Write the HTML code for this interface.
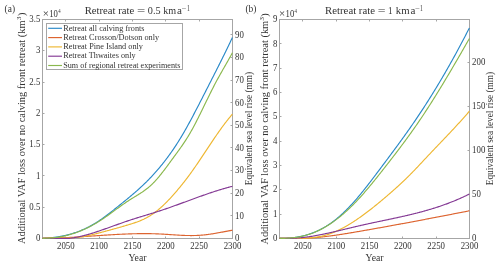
<!DOCTYPE html><html><head><meta charset="utf-8"><style>html,body{margin:0;padding:0;background:#fff;overflow:hidden}svg{display:block;will-change:transform}text{font-family:"Liberation Serif",serif;fill:#333333}</style></head><body>
<svg width="500" height="266" viewBox="0 0 500 266">
<rect width="500" height="266" fill="#fff"/>
<rect x="42.5" y="19.5" width="190.00" height="219.00" fill="none" stroke="#a6a6a6" stroke-width="1"/>
<line x1="65.5" y1="238.5" x2="65.5" y2="236.5" stroke="#a6a6a6" stroke-width="1"/>
<line x1="65.5" y1="19.5" x2="65.5" y2="21.5" stroke="#a6a6a6" stroke-width="1"/>
<text x="65.83" y="249.4" font-size="9.8" text-anchor="middle" textLength="17.64" lengthAdjust="spacingAndGlyphs">2050</text>
<line x1="99.5" y1="238.5" x2="99.5" y2="236.5" stroke="#a6a6a6" stroke-width="1"/>
<line x1="99.5" y1="19.5" x2="99.5" y2="21.5" stroke="#a6a6a6" stroke-width="1"/>
<text x="99.17" y="249.4" font-size="9.8" text-anchor="middle" textLength="17.64" lengthAdjust="spacingAndGlyphs">2100</text>
<line x1="132.5" y1="238.5" x2="132.5" y2="236.5" stroke="#a6a6a6" stroke-width="1"/>
<line x1="132.5" y1="19.5" x2="132.5" y2="21.5" stroke="#a6a6a6" stroke-width="1"/>
<text x="132.50" y="249.4" font-size="9.8" text-anchor="middle" textLength="17.64" lengthAdjust="spacingAndGlyphs">2150</text>
<line x1="165.5" y1="238.5" x2="165.5" y2="236.5" stroke="#a6a6a6" stroke-width="1"/>
<line x1="165.5" y1="19.5" x2="165.5" y2="21.5" stroke="#a6a6a6" stroke-width="1"/>
<text x="165.83" y="249.4" font-size="9.8" text-anchor="middle" textLength="17.64" lengthAdjust="spacingAndGlyphs">2200</text>
<line x1="199.5" y1="238.5" x2="199.5" y2="236.5" stroke="#a6a6a6" stroke-width="1"/>
<line x1="199.5" y1="19.5" x2="199.5" y2="21.5" stroke="#a6a6a6" stroke-width="1"/>
<text x="199.17" y="249.4" font-size="9.8" text-anchor="middle" textLength="17.64" lengthAdjust="spacingAndGlyphs">2250</text>
<text x="232.50" y="249.4" font-size="9.8" text-anchor="middle" textLength="17.64" lengthAdjust="spacingAndGlyphs">2300</text>
<text x="40.30" y="241.10" font-size="9.8" text-anchor="end" textLength="4.41" lengthAdjust="spacingAndGlyphs">0</text>
<line x1="42.5" y1="207.5" x2="44.5" y2="207.5" stroke="#a6a6a6" stroke-width="1"/>
<text x="40.30" y="209.83" font-size="9.8" text-anchor="end" textLength="11.03" lengthAdjust="spacingAndGlyphs">0.5</text>
<line x1="42.5" y1="175.5" x2="44.5" y2="175.5" stroke="#a6a6a6" stroke-width="1"/>
<text x="40.30" y="178.56" font-size="9.8" text-anchor="end" textLength="4.41" lengthAdjust="spacingAndGlyphs">1</text>
<line x1="42.5" y1="144.5" x2="44.5" y2="144.5" stroke="#a6a6a6" stroke-width="1"/>
<text x="40.30" y="147.29" font-size="9.8" text-anchor="end" textLength="11.03" lengthAdjust="spacingAndGlyphs">1.5</text>
<line x1="42.5" y1="113.5" x2="44.5" y2="113.5" stroke="#a6a6a6" stroke-width="1"/>
<text x="40.30" y="116.01" font-size="9.8" text-anchor="end" textLength="4.41" lengthAdjust="spacingAndGlyphs">2</text>
<line x1="42.5" y1="82.5" x2="44.5" y2="82.5" stroke="#a6a6a6" stroke-width="1"/>
<text x="40.30" y="84.74" font-size="9.8" text-anchor="end" textLength="11.03" lengthAdjust="spacingAndGlyphs">2.5</text>
<line x1="42.5" y1="50.5" x2="44.5" y2="50.5" stroke="#a6a6a6" stroke-width="1"/>
<text x="40.30" y="53.47" font-size="9.8" text-anchor="end" textLength="4.41" lengthAdjust="spacingAndGlyphs">3</text>
<text x="40.30" y="22.20" font-size="9.8" text-anchor="end" textLength="11.03" lengthAdjust="spacingAndGlyphs">3.5</text>
<text x="235.10" y="241.30" font-size="9.8" textLength="4.41" lengthAdjust="spacingAndGlyphs">0</text>
<line x1="232.5" y1="215.5" x2="230.5" y2="215.5" stroke="#a6a6a6" stroke-width="1"/>
<text x="235.10" y="218.68" font-size="9.8" textLength="8.82" lengthAdjust="spacingAndGlyphs">10</text>
<line x1="232.5" y1="193.5" x2="230.5" y2="193.5" stroke="#a6a6a6" stroke-width="1"/>
<text x="235.10" y="196.06" font-size="9.8" textLength="8.82" lengthAdjust="spacingAndGlyphs">20</text>
<line x1="232.5" y1="170.5" x2="230.5" y2="170.5" stroke="#a6a6a6" stroke-width="1"/>
<text x="235.10" y="173.44" font-size="9.8" textLength="8.82" lengthAdjust="spacingAndGlyphs">30</text>
<line x1="232.5" y1="147.5" x2="230.5" y2="147.5" stroke="#a6a6a6" stroke-width="1"/>
<text x="235.10" y="150.82" font-size="9.8" textLength="8.82" lengthAdjust="spacingAndGlyphs">40</text>
<line x1="232.5" y1="125.5" x2="230.5" y2="125.5" stroke="#a6a6a6" stroke-width="1"/>
<text x="235.10" y="128.20" font-size="9.8" textLength="8.82" lengthAdjust="spacingAndGlyphs">50</text>
<line x1="232.5" y1="102.5" x2="230.5" y2="102.5" stroke="#a6a6a6" stroke-width="1"/>
<text x="235.10" y="105.58" font-size="9.8" textLength="8.82" lengthAdjust="spacingAndGlyphs">60</text>
<line x1="232.5" y1="80.5" x2="230.5" y2="80.5" stroke="#a6a6a6" stroke-width="1"/>
<text x="235.10" y="82.96" font-size="9.8" textLength="8.82" lengthAdjust="spacingAndGlyphs">70</text>
<line x1="232.5" y1="57.5" x2="230.5" y2="57.5" stroke="#a6a6a6" stroke-width="1"/>
<text x="235.10" y="60.34" font-size="9.8" textLength="8.82" lengthAdjust="spacingAndGlyphs">80</text>
<line x1="232.5" y1="34.5" x2="230.5" y2="34.5" stroke="#a6a6a6" stroke-width="1"/>
<text x="235.10" y="37.72" font-size="9.8" textLength="8.82" lengthAdjust="spacingAndGlyphs">90</text>
<path d="M42.50,238.30 L43.17,238.27 L43.83,238.25 L44.50,238.21 L45.17,238.18 L45.83,238.14 L46.50,238.10 L47.16,238.06 L47.83,238.01 L48.50,237.96 L49.16,237.91 L49.83,237.85 L50.50,237.79 L51.16,237.72 L51.83,237.66 L52.49,237.58 L53.16,237.51 L53.83,237.43 L54.49,237.35 L55.16,237.26 L55.83,237.17 L56.49,237.08 L57.16,236.98 L57.83,236.88 L58.49,236.77 L59.16,236.66 L59.82,236.55 L60.49,236.43 L61.16,236.31 L61.82,236.18 L62.49,236.05 L63.16,235.91 L63.82,235.77 L64.49,235.63 L65.15,235.48 L65.82,235.33 L66.49,235.17 L67.15,235.01 L67.82,234.84 L68.49,234.67 L69.15,234.49 L69.82,234.31 L70.49,234.12 L71.15,233.93 L71.82,233.73 L72.48,233.53 L73.15,233.32 L73.82,233.11 L74.48,232.89 L75.15,232.67 L75.82,232.44 L76.48,232.21 L77.15,231.97 L77.81,231.73 L78.48,231.48 L79.15,231.22 L79.81,230.96 L80.48,230.69 L81.15,230.42 L81.81,230.14 L82.48,229.86 L83.15,229.57 L83.81,229.27 L84.48,228.97 L85.14,228.67 L85.81,228.35 L86.48,228.03 L87.14,227.71 L87.81,227.37 L88.48,227.04 L89.14,226.69 L89.81,226.34 L90.47,225.98 L91.14,225.62 L91.81,225.25 L92.47,224.87 L93.14,224.49 L93.81,224.10 L94.47,223.70 L95.14,223.30 L95.81,222.89 L96.47,222.47 L97.14,222.05 L97.80,221.62 L98.47,221.18 L99.14,220.74 L99.80,220.29 L100.47,219.84 L101.14,219.38 L101.80,218.91 L102.47,218.44 L103.13,217.96 L103.80,217.48 L104.47,217.00 L105.13,216.51 L105.80,216.02 L106.47,215.52 L107.13,215.02 L107.80,214.51 L108.47,214.00 L109.13,213.49 L109.80,212.98 L110.46,212.46 L111.13,211.94 L111.80,211.42 L112.46,210.89 L113.13,210.37 L113.80,209.84 L114.46,209.31 L115.13,208.78 L115.79,208.24 L116.46,207.71 L117.13,207.17 L117.79,206.64 L118.46,206.10 L119.13,205.56 L119.79,205.03 L120.46,204.49 L121.13,203.95 L121.79,203.41 L122.46,202.87 L123.12,202.34 L123.79,201.79 L124.46,201.25 L125.12,200.71 L125.79,200.17 L126.46,199.62 L127.12,199.07 L127.79,198.52 L128.45,197.97 L129.12,197.42 L129.79,196.86 L130.45,196.30 L131.12,195.74 L131.79,195.18 L132.45,194.61 L133.12,194.04 L133.79,193.47 L134.45,192.90 L135.12,192.32 L135.78,191.74 L136.45,191.15 L137.12,190.56 L137.78,189.97 L138.45,189.37 L139.12,188.76 L139.78,188.16 L140.45,187.55 L141.11,186.93 L141.78,186.31 L142.45,185.68 L143.11,185.05 L143.78,184.42 L144.45,183.77 L145.11,183.13 L145.78,182.47 L146.45,181.82 L147.11,181.15 L147.78,180.48 L148.44,179.80 L149.11,179.12 L149.78,178.43 L150.44,177.74 L151.11,177.04 L151.78,176.33 L152.44,175.61 L153.11,174.89 L153.77,174.16 L154.44,173.43 L155.11,172.69 L155.77,171.94 L156.44,171.18 L157.11,170.42 L157.77,169.64 L158.44,168.87 L159.11,168.08 L159.77,167.28 L160.44,166.48 L161.10,165.67 L161.77,164.85 L162.44,164.03 L163.10,163.19 L163.77,162.35 L164.44,161.49 L165.10,160.63 L165.77,159.76 L166.43,158.89 L167.10,158.00 L167.77,157.10 L168.43,156.20 L169.10,155.28 L169.77,154.36 L170.43,153.43 L171.10,152.48 L171.77,151.53 L172.43,150.57 L173.10,149.60 L173.76,148.61 L174.43,147.62 L175.10,146.62 L175.76,145.61 L176.43,144.58 L177.10,143.55 L177.76,142.50 L178.43,141.45 L179.09,140.38 L179.76,139.31 L180.43,138.22 L181.09,137.12 L181.76,136.01 L182.43,134.89 L183.09,133.76 L183.76,132.61 L184.43,131.46 L185.09,130.29 L185.76,129.12 L186.42,127.93 L187.09,126.74 L187.76,125.54 L188.42,124.33 L189.09,123.11 L189.76,121.88 L190.42,120.65 L191.09,119.41 L191.75,118.16 L192.42,116.91 L193.09,115.65 L193.75,114.39 L194.42,113.12 L195.09,111.85 L195.75,110.57 L196.42,109.30 L197.09,108.01 L197.75,106.73 L198.42,105.44 L199.08,104.15 L199.75,102.85 L200.42,101.56 L201.08,100.26 L201.75,98.96 L202.42,97.66 L203.08,96.35 L203.75,95.05 L204.41,93.74 L205.08,92.43 L205.75,91.12 L206.41,89.81 L207.08,88.51 L207.75,87.20 L208.41,85.89 L209.08,84.58 L209.75,83.27 L210.41,81.96 L211.08,80.65 L211.74,79.34 L212.41,78.03 L213.08,76.72 L213.74,75.41 L214.41,74.10 L215.08,72.78 L215.74,71.47 L216.41,70.15 L217.07,68.84 L217.74,67.52 L218.41,66.19 L219.07,64.87 L219.74,63.54 L220.41,62.21 L221.07,60.88 L221.74,59.54 L222.41,58.20 L223.07,56.86 L223.74,55.51 L224.40,54.16 L225.07,52.80 L225.74,51.44 L226.40,50.07 L227.07,48.70 L227.74,47.32 L228.40,45.94 L229.07,44.55 L229.73,43.15 L230.40,41.75 L231.07,40.34 L231.73,38.93 L232.40,37.50" fill="none" stroke="#2989c8" stroke-width="1.15" stroke-linejoin="round"/>
<path d="M42.50,238.30 L43.17,238.30 L43.83,238.30 L44.50,238.29 L45.17,238.29 L45.83,238.28 L46.50,238.27 L47.16,238.26 L47.83,238.25 L48.50,238.24 L49.16,238.23 L49.83,238.22 L50.50,238.20 L51.16,238.19 L51.83,238.17 L52.49,238.16 L53.16,238.14 L53.83,238.12 L54.49,238.10 L55.16,238.08 L55.83,238.06 L56.49,238.04 L57.16,238.02 L57.83,237.99 L58.49,237.97 L59.16,237.94 L59.82,237.92 L60.49,237.89 L61.16,237.86 L61.82,237.83 L62.49,237.80 L63.16,237.77 L63.82,237.74 L64.49,237.71 L65.15,237.68 L65.82,237.65 L66.49,237.61 L67.15,237.58 L67.82,237.55 L68.49,237.51 L69.15,237.48 L69.82,237.44 L70.49,237.40 L71.15,237.37 L71.82,237.33 L72.48,237.29 L73.15,237.25 L73.82,237.21 L74.48,237.17 L75.15,237.13 L75.82,237.09 L76.48,237.05 L77.15,237.01 L77.81,236.97 L78.48,236.93 L79.15,236.89 L79.81,236.85 L80.48,236.80 L81.15,236.76 L81.81,236.72 L82.48,236.67 L83.15,236.63 L83.81,236.59 L84.48,236.54 L85.14,236.50 L85.81,236.45 L86.48,236.41 L87.14,236.36 L87.81,236.32 L88.48,236.27 L89.14,236.23 L89.81,236.18 L90.47,236.14 L91.14,236.09 L91.81,236.05 L92.47,236.00 L93.14,235.95 L93.81,235.91 L94.47,235.86 L95.14,235.82 L95.81,235.77 L96.47,235.73 L97.14,235.68 L97.80,235.64 L98.47,235.59 L99.14,235.55 L99.80,235.50 L100.47,235.46 L101.14,235.41 L101.80,235.37 L102.47,235.33 L103.13,235.28 L103.80,235.24 L104.47,235.19 L105.13,235.15 L105.80,235.11 L106.47,235.07 L107.13,235.02 L107.80,234.98 L108.47,234.94 L109.13,234.90 L109.80,234.86 L110.46,234.82 L111.13,234.78 L111.80,234.74 L112.46,234.70 L113.13,234.66 L113.80,234.62 L114.46,234.58 L115.13,234.55 L115.79,234.51 L116.46,234.47 L117.13,234.44 L117.79,234.40 L118.46,234.37 L119.13,234.33 L119.79,234.30 L120.46,234.27 L121.13,234.24 L121.79,234.21 L122.46,234.17 L123.12,234.14 L123.79,234.11 L124.46,234.09 L125.12,234.06 L125.79,234.03 L126.46,234.00 L127.12,233.98 L127.79,233.95 L128.45,233.93 L129.12,233.91 L129.79,233.88 L130.45,233.86 L131.12,233.84 L131.79,233.82 L132.45,233.80 L133.12,233.78 L133.79,233.77 L134.45,233.75 L135.12,233.73 L135.78,233.72 L136.45,233.71 L137.12,233.69 L137.78,233.68 L138.45,233.67 L139.12,233.66 L139.78,233.66 L140.45,233.65 L141.11,233.64 L141.78,233.64 L142.45,233.63 L143.11,233.63 L143.78,233.63 L144.45,233.63 L145.11,233.63 L145.78,233.63 L146.45,233.64 L147.11,233.64 L147.78,233.65 L148.44,233.65 L149.11,233.66 L149.78,233.67 L150.44,233.68 L151.11,233.69 L151.78,233.71 L152.44,233.72 L153.11,233.74 L153.77,233.76 L154.44,233.78 L155.11,233.80 L155.77,233.82 L156.44,233.84 L157.11,233.87 L157.77,233.89 L158.44,233.92 L159.11,233.95 L159.77,233.98 L160.44,234.01 L161.10,234.05 L161.77,234.08 L162.44,234.12 L163.10,234.15 L163.77,234.19 L164.44,234.23 L165.10,234.27 L165.77,234.32 L166.43,234.36 L167.10,234.40 L167.77,234.44 L168.43,234.49 L169.10,234.53 L169.77,234.58 L170.43,234.62 L171.10,234.67 L171.77,234.71 L172.43,234.75 L173.10,234.80 L173.76,234.84 L174.43,234.89 L175.10,234.93 L175.76,234.97 L176.43,235.01 L177.10,235.05 L177.76,235.09 L178.43,235.13 L179.09,235.17 L179.76,235.21 L180.43,235.24 L181.09,235.28 L181.76,235.31 L182.43,235.34 L183.09,235.37 L183.76,235.40 L184.43,235.42 L185.09,235.45 L185.76,235.47 L186.42,235.49 L187.09,235.51 L187.76,235.52 L188.42,235.53 L189.09,235.54 L189.76,235.55 L190.42,235.56 L191.09,235.56 L191.75,235.56 L192.42,235.55 L193.09,235.55 L193.75,235.54 L194.42,235.53 L195.09,235.51 L195.75,235.49 L196.42,235.46 L197.09,235.44 L197.75,235.41 L198.42,235.37 L199.08,235.33 L199.75,235.29 L200.42,235.24 L201.08,235.19 L201.75,235.14 L202.42,235.08 L203.08,235.02 L203.75,234.95 L204.41,234.88 L205.08,234.81 L205.75,234.73 L206.41,234.65 L207.08,234.57 L207.75,234.48 L208.41,234.39 L209.08,234.30 L209.75,234.21 L210.41,234.11 L211.08,234.01 L211.74,233.91 L212.41,233.81 L213.08,233.70 L213.74,233.59 L214.41,233.48 L215.08,233.37 L215.74,233.26 L216.41,233.14 L217.07,233.03 L217.74,232.91 L218.41,232.79 L219.07,232.67 L219.74,232.55 L220.41,232.43 L221.07,232.30 L221.74,232.18 L222.41,232.06 L223.07,231.93 L223.74,231.81 L224.40,231.68 L225.07,231.56 L225.74,231.43 L226.40,231.31 L227.07,231.18 L227.74,231.06 L228.40,230.93 L229.07,230.81 L229.73,230.68 L230.40,230.56 L231.07,230.44 L231.73,230.32 L232.40,230.20" fill="none" stroke="#dd6430" stroke-width="1.15" stroke-linejoin="round"/>
<path d="M42.50,238.30 L43.17,238.24 L43.83,238.18 L44.50,238.12 L45.17,238.07 L45.83,238.03 L46.50,237.99 L47.16,237.96 L47.83,237.92 L48.50,237.90 L49.16,237.87 L49.83,237.85 L50.50,237.83 L51.16,237.82 L51.83,237.81 L52.49,237.80 L53.16,237.79 L53.83,237.79 L54.49,237.78 L55.16,237.78 L55.83,237.78 L56.49,237.78 L57.16,237.79 L57.83,237.79 L58.49,237.80 L59.16,237.80 L59.82,237.81 L60.49,237.81 L61.16,237.82 L61.82,237.82 L62.49,237.83 L63.16,237.83 L63.82,237.83 L64.49,237.84 L65.15,237.84 L65.82,237.84 L66.49,237.83 L67.15,237.83 L67.82,237.82 L68.49,237.81 L69.15,237.80 L69.82,237.79 L70.49,237.77 L71.15,237.75 L71.82,237.72 L72.48,237.70 L73.15,237.67 L73.82,237.63 L74.48,237.59 L75.15,237.55 L75.82,237.50 L76.48,237.45 L77.15,237.39 L77.81,237.33 L78.48,237.26 L79.15,237.18 L79.81,237.10 L80.48,237.02 L81.15,236.92 L81.81,236.83 L82.48,236.72 L83.15,236.61 L83.81,236.50 L84.48,236.38 L85.14,236.26 L85.81,236.13 L86.48,236.00 L87.14,235.86 L87.81,235.72 L88.48,235.58 L89.14,235.43 L89.81,235.28 L90.47,235.12 L91.14,234.97 L91.81,234.81 L92.47,234.64 L93.14,234.48 L93.81,234.31 L94.47,234.14 L95.14,233.97 L95.81,233.80 L96.47,233.63 L97.14,233.45 L97.80,233.28 L98.47,233.10 L99.14,232.93 L99.80,232.75 L100.47,232.57 L101.14,232.40 L101.80,232.22 L102.47,232.04 L103.13,231.86 L103.80,231.69 L104.47,231.51 L105.13,231.33 L105.80,231.15 L106.47,230.98 L107.13,230.80 L107.80,230.62 L108.47,230.44 L109.13,230.26 L109.80,230.08 L110.46,229.90 L111.13,229.72 L111.80,229.53 L112.46,229.35 L113.13,229.17 L113.80,228.99 L114.46,228.80 L115.13,228.62 L115.79,228.43 L116.46,228.25 L117.13,228.06 L117.79,227.87 L118.46,227.69 L119.13,227.50 L119.79,227.31 L120.46,227.12 L121.13,226.93 L121.79,226.73 L122.46,226.54 L123.12,226.35 L123.79,226.15 L124.46,225.96 L125.12,225.76 L125.79,225.56 L126.46,225.36 L127.12,225.16 L127.79,224.96 L128.45,224.76 L129.12,224.55 L129.79,224.35 L130.45,224.14 L131.12,223.94 L131.79,223.73 L132.45,223.51 L133.12,223.30 L133.79,223.08 L134.45,222.86 L135.12,222.64 L135.78,222.41 L136.45,222.17 L137.12,221.93 L137.78,221.69 L138.45,221.44 L139.12,221.18 L139.78,220.92 L140.45,220.65 L141.11,220.37 L141.78,220.08 L142.45,219.79 L143.11,219.49 L143.78,219.18 L144.45,218.85 L145.11,218.52 L145.78,218.18 L146.45,217.83 L147.11,217.46 L147.78,217.09 L148.44,216.71 L149.11,216.31 L149.78,215.90 L150.44,215.48 L151.11,215.06 L151.78,214.62 L152.44,214.17 L153.11,213.70 L153.77,213.23 L154.44,212.75 L155.11,212.25 L155.77,211.75 L156.44,211.23 L157.11,210.70 L157.77,210.16 L158.44,209.61 L159.11,209.05 L159.77,208.48 L160.44,207.90 L161.10,207.30 L161.77,206.70 L162.44,206.09 L163.10,205.47 L163.77,204.84 L164.44,204.20 L165.10,203.55 L165.77,202.89 L166.43,202.23 L167.10,201.55 L167.77,200.87 L168.43,200.18 L169.10,199.48 L169.77,198.77 L170.43,198.05 L171.10,197.33 L171.77,196.60 L172.43,195.86 L173.10,195.12 L173.76,194.37 L174.43,193.61 L175.10,192.85 L175.76,192.08 L176.43,191.31 L177.10,190.53 L177.76,189.74 L178.43,188.95 L179.09,188.15 L179.76,187.34 L180.43,186.53 L181.09,185.72 L181.76,184.89 L182.43,184.07 L183.09,183.23 L183.76,182.39 L184.43,181.54 L185.09,180.68 L185.76,179.82 L186.42,178.95 L187.09,178.07 L187.76,177.18 L188.42,176.29 L189.09,175.39 L189.76,174.48 L190.42,173.56 L191.09,172.64 L191.75,171.71 L192.42,170.77 L193.09,169.82 L193.75,168.87 L194.42,167.92 L195.09,166.96 L195.75,165.99 L196.42,165.02 L197.09,164.05 L197.75,163.07 L198.42,162.08 L199.08,161.10 L199.75,160.11 L200.42,159.11 L201.08,158.12 L201.75,157.12 L202.42,156.12 L203.08,155.12 L203.75,154.12 L204.41,153.11 L205.08,152.11 L205.75,151.10 L206.41,150.10 L207.08,149.10 L207.75,148.09 L208.41,147.09 L209.08,146.09 L209.75,145.09 L210.41,144.09 L211.08,143.09 L211.74,142.10 L212.41,141.11 L213.08,140.12 L213.74,139.13 L214.41,138.15 L215.08,137.18 L215.74,136.20 L216.41,135.23 L217.07,134.27 L217.74,133.31 L218.41,132.36 L219.07,131.41 L219.74,130.47 L220.41,129.54 L221.07,128.61 L221.74,127.69 L222.41,126.78 L223.07,125.88 L223.74,124.98 L224.40,124.09 L225.07,123.21 L225.74,122.34 L226.40,121.48 L227.07,120.63 L227.74,119.79 L228.40,118.96 L229.07,118.13 L229.73,117.32 L230.40,116.53 L231.07,115.74 L231.73,114.96 L232.40,114.20" fill="none" stroke="#eeb732" stroke-width="1.15" stroke-linejoin="round"/>
<path d="M42.50,238.30 L43.17,238.30 L43.83,238.30 L44.50,238.30 L45.17,238.30 L45.83,238.30 L46.50,238.30 L47.16,238.30 L47.83,238.30 L48.50,238.30 L49.16,238.30 L49.83,238.30 L50.50,238.30 L51.16,238.30 L51.83,238.30 L52.49,238.30 L53.16,238.30 L53.83,238.30 L54.49,238.30 L55.16,238.30 L55.83,238.30 L56.49,238.30 L57.16,238.30 L57.83,238.30 L58.49,238.30 L59.16,238.30 L59.82,238.30 L60.49,238.30 L61.16,238.30 L61.82,238.30 L62.49,238.30 L63.16,238.30 L63.82,238.30 L64.49,238.30 L65.15,238.30 L65.82,238.30 L66.49,238.30 L67.15,238.30 L67.82,238.30 L68.49,238.30 L69.15,238.30 L69.82,238.30 L70.49,238.23 L71.15,238.14 L71.82,238.04 L72.48,237.93 L73.15,237.83 L73.82,237.72 L74.48,237.60 L75.15,237.49 L75.82,237.36 L76.48,237.24 L77.15,237.11 L77.81,236.97 L78.48,236.84 L79.15,236.69 L79.81,236.55 L80.48,236.40 L81.15,236.25 L81.81,236.09 L82.48,235.93 L83.15,235.77 L83.81,235.60 L84.48,235.43 L85.14,235.25 L85.81,235.08 L86.48,234.90 L87.14,234.71 L87.81,234.52 L88.48,234.33 L89.14,234.14 L89.81,233.95 L90.47,233.75 L91.14,233.55 L91.81,233.34 L92.47,233.14 L93.14,232.93 L93.81,232.72 L94.47,232.51 L95.14,232.29 L95.81,232.08 L96.47,231.86 L97.14,231.64 L97.80,231.42 L98.47,231.20 L99.14,230.97 L99.80,230.75 L100.47,230.52 L101.14,230.29 L101.80,230.06 L102.47,229.83 L103.13,229.60 L103.80,229.37 L104.47,229.13 L105.13,228.90 L105.80,228.66 L106.47,228.43 L107.13,228.19 L107.80,227.96 L108.47,227.72 L109.13,227.48 L109.80,227.24 L110.46,227.00 L111.13,226.77 L111.80,226.53 L112.46,226.29 L113.13,226.05 L113.80,225.81 L114.46,225.57 L115.13,225.33 L115.79,225.09 L116.46,224.85 L117.13,224.62 L117.79,224.38 L118.46,224.14 L119.13,223.90 L119.79,223.67 L120.46,223.43 L121.13,223.19 L121.79,222.96 L122.46,222.73 L123.12,222.49 L123.79,222.26 L124.46,222.03 L125.12,221.80 L125.79,221.57 L126.46,221.34 L127.12,221.12 L127.79,220.89 L128.45,220.67 L129.12,220.44 L129.79,220.22 L130.45,220.00 L131.12,219.79 L131.79,219.57 L132.45,219.35 L133.12,219.14 L133.79,218.93 L134.45,218.72 L135.12,218.51 L135.78,218.30 L136.45,218.09 L137.12,217.88 L137.78,217.67 L138.45,217.47 L139.12,217.26 L139.78,217.06 L140.45,216.85 L141.11,216.65 L141.78,216.45 L142.45,216.24 L143.11,216.04 L143.78,215.84 L144.45,215.64 L145.11,215.43 L145.78,215.23 L146.45,215.03 L147.11,214.83 L147.78,214.63 L148.44,214.42 L149.11,214.22 L149.78,214.02 L150.44,213.81 L151.11,213.61 L151.78,213.40 L152.44,213.20 L153.11,212.99 L153.77,212.78 L154.44,212.58 L155.11,212.37 L155.77,212.16 L156.44,211.95 L157.11,211.73 L157.77,211.52 L158.44,211.31 L159.11,211.09 L159.77,210.87 L160.44,210.65 L161.10,210.43 L161.77,210.21 L162.44,209.99 L163.10,209.77 L163.77,209.54 L164.44,209.31 L165.10,209.09 L165.77,208.86 L166.43,208.63 L167.10,208.40 L167.77,208.17 L168.43,207.94 L169.10,207.70 L169.77,207.47 L170.43,207.23 L171.10,207.00 L171.77,206.76 L172.43,206.53 L173.10,206.29 L173.76,206.05 L174.43,205.81 L175.10,205.57 L175.76,205.33 L176.43,205.09 L177.10,204.85 L177.76,204.61 L178.43,204.36 L179.09,204.12 L179.76,203.88 L180.43,203.63 L181.09,203.39 L181.76,203.15 L182.43,202.90 L183.09,202.66 L183.76,202.41 L184.43,202.17 L185.09,201.92 L185.76,201.68 L186.42,201.43 L187.09,201.19 L187.76,200.94 L188.42,200.70 L189.09,200.45 L189.76,200.21 L190.42,199.96 L191.09,199.72 L191.75,199.47 L192.42,199.23 L193.09,198.99 L193.75,198.74 L194.42,198.50 L195.09,198.26 L195.75,198.01 L196.42,197.77 L197.09,197.53 L197.75,197.29 L198.42,197.05 L199.08,196.81 L199.75,196.57 L200.42,196.33 L201.08,196.10 L201.75,195.86 L202.42,195.62 L203.08,195.39 L203.75,195.15 L204.41,194.92 L205.08,194.69 L205.75,194.45 L206.41,194.22 L207.08,193.99 L207.75,193.76 L208.41,193.54 L209.08,193.31 L209.75,193.08 L210.41,192.86 L211.08,192.63 L211.74,192.41 L212.41,192.19 L213.08,191.97 L213.74,191.75 L214.41,191.53 L215.08,191.32 L215.74,191.10 L216.41,190.89 L217.07,190.68 L217.74,190.47 L218.41,190.26 L219.07,190.05 L219.74,189.85 L220.41,189.65 L221.07,189.44 L221.74,189.24 L222.41,189.05 L223.07,188.85 L223.74,188.65 L224.40,188.46 L225.07,188.27 L225.74,188.08 L226.40,187.89 L227.07,187.71 L227.74,187.52 L228.40,187.34 L229.07,187.16 L229.73,186.99 L230.40,186.81 L231.07,186.64 L231.73,186.47 L232.40,186.30" fill="none" stroke="#843994" stroke-width="1.15" stroke-linejoin="round"/>
<path d="M42.50,238.30 L43.17,238.30 L43.83,238.30 L44.50,238.30 L45.17,238.29 L45.83,238.27 L46.50,238.25 L47.16,238.23 L47.83,238.20 L48.50,238.17 L49.16,238.13 L49.83,238.09 L50.50,238.04 L51.16,237.99 L51.83,237.93 L52.49,237.87 L53.16,237.81 L53.83,237.74 L54.49,237.66 L55.16,237.58 L55.83,237.50 L56.49,237.41 L57.16,237.31 L57.83,237.21 L58.49,237.11 L59.16,237.00 L59.82,236.89 L60.49,236.77 L61.16,236.65 L61.82,236.52 L62.49,236.39 L63.16,236.25 L63.82,236.11 L64.49,235.96 L65.15,235.81 L65.82,235.65 L66.49,235.49 L67.15,235.32 L67.82,235.15 L68.49,234.97 L69.15,234.79 L69.82,234.60 L70.49,234.41 L71.15,234.21 L71.82,234.01 L72.48,233.80 L73.15,233.59 L73.82,233.37 L74.48,233.15 L75.15,232.92 L75.82,232.69 L76.48,232.45 L77.15,232.21 L77.81,231.96 L78.48,231.71 L79.15,231.45 L79.81,231.19 L80.48,230.92 L81.15,230.65 L81.81,230.37 L82.48,230.09 L83.15,229.80 L83.81,229.50 L84.48,229.20 L85.14,228.90 L85.81,228.59 L86.48,228.28 L87.14,227.96 L87.81,227.63 L88.48,227.30 L89.14,226.96 L89.81,226.62 L90.47,226.28 L91.14,225.92 L91.81,225.57 L92.47,225.20 L93.14,224.84 L93.81,224.46 L94.47,224.08 L95.14,223.70 L95.81,223.31 L96.47,222.92 L97.14,222.52 L97.80,222.11 L98.47,221.70 L99.14,221.28 L99.80,220.86 L100.47,220.43 L101.14,220.00 L101.80,219.56 L102.47,219.12 L103.13,218.67 L103.80,218.22 L104.47,217.76 L105.13,217.31 L105.80,216.84 L106.47,216.38 L107.13,215.91 L107.80,215.43 L108.47,214.96 L109.13,214.48 L109.80,214.00 L110.46,213.52 L111.13,213.04 L111.80,212.55 L112.46,212.07 L113.13,211.58 L113.80,211.10 L114.46,210.61 L115.13,210.12 L115.79,209.63 L116.46,209.15 L117.13,208.66 L117.79,208.17 L118.46,207.69 L119.13,207.21 L119.79,206.72 L120.46,206.24 L121.13,205.77 L121.79,205.29 L122.46,204.82 L123.12,204.35 L123.79,203.88 L124.46,203.42 L125.12,202.96 L125.79,202.50 L126.46,202.05 L127.12,201.60 L127.79,201.15 L128.45,200.71 L129.12,200.28 L129.79,199.85 L130.45,199.43 L131.12,199.01 L131.79,198.59 L132.45,198.18 L133.12,197.77 L133.79,197.37 L134.45,196.96 L135.12,196.56 L135.78,196.16 L136.45,195.75 L137.12,195.35 L137.78,194.94 L138.45,194.52 L139.12,194.11 L139.78,193.69 L140.45,193.26 L141.11,192.83 L141.78,192.39 L142.45,191.95 L143.11,191.49 L143.78,191.03 L144.45,190.56 L145.11,190.07 L145.78,189.58 L146.45,189.07 L147.11,188.55 L147.78,188.02 L148.44,187.47 L149.11,186.91 L149.78,186.33 L150.44,185.74 L151.11,185.13 L151.78,184.50 L152.44,183.85 L153.11,183.19 L153.77,182.51 L154.44,181.81 L155.11,181.10 L155.77,180.37 L156.44,179.62 L157.11,178.87 L157.77,178.09 L158.44,177.31 L159.11,176.51 L159.77,175.71 L160.44,174.89 L161.10,174.06 L161.77,173.22 L162.44,172.37 L163.10,171.51 L163.77,170.65 L164.44,169.78 L165.10,168.90 L165.77,168.01 L166.43,167.12 L167.10,166.23 L167.77,165.32 L168.43,164.42 L169.10,163.51 L169.77,162.60 L170.43,161.69 L171.10,160.78 L171.77,159.86 L172.43,158.95 L173.10,158.04 L173.76,157.12 L174.43,156.21 L175.10,155.30 L175.76,154.39 L176.43,153.49 L177.10,152.58 L177.76,151.67 L178.43,150.75 L179.09,149.83 L179.76,148.91 L180.43,147.98 L181.09,147.04 L181.76,146.09 L182.43,145.13 L183.09,144.15 L183.76,143.17 L184.43,142.17 L185.09,141.16 L185.76,140.13 L186.42,139.09 L187.09,138.03 L187.76,136.95 L188.42,135.86 L189.09,134.75 L189.76,133.62 L190.42,132.47 L191.09,131.31 L191.75,130.12 L192.42,128.92 L193.09,127.70 L193.75,126.46 L194.42,125.21 L195.09,123.94 L195.75,122.66 L196.42,121.37 L197.09,120.07 L197.75,118.75 L198.42,117.43 L199.08,116.10 L199.75,114.76 L200.42,113.41 L201.08,112.05 L201.75,110.70 L202.42,109.33 L203.08,107.97 L203.75,106.60 L204.41,105.23 L205.08,103.85 L205.75,102.48 L206.41,101.11 L207.08,99.74 L207.75,98.38 L208.41,97.02 L209.08,95.66 L209.75,94.31 L210.41,92.97 L211.08,91.63 L211.74,90.30 L212.41,88.98 L213.08,87.67 L213.74,86.37 L214.41,85.09 L215.08,83.81 L215.74,82.55 L216.41,81.31 L217.07,80.07 L217.74,78.85 L218.41,77.63 L219.07,76.43 L219.74,75.23 L220.41,74.04 L221.07,72.86 L221.74,71.69 L222.41,70.51 L223.07,69.34 L223.74,68.18 L224.40,67.01 L225.07,65.85 L225.74,64.68 L226.40,63.52 L227.07,62.35 L227.74,61.18 L228.40,60.00 L229.07,58.82 L229.73,57.63 L230.40,56.44 L231.07,55.24 L231.73,54.02 L232.40,52.80" fill="none" stroke="#8ab84d" stroke-width="1.15" stroke-linejoin="round"/>
<text x="42.83" y="17.00" font-size="10" textLength="6.13" lengthAdjust="spacingAndGlyphs">×</text>
<text x="49.27" y="17.00" font-size="10" textLength="8.64" lengthAdjust="spacingAndGlyphs">10</text>
<text x="58.21" y="12.70" font-size="5.8" textLength="2.37" lengthAdjust="spacingAndGlyphs">4</text>
<text x="84.68" y="13.60" font-size="9.7" textLength="49.50" lengthAdjust="spacingAndGlyphs">Retreat rate</text>
<text x="137.07" y="13.60" font-size="9.7" textLength="8.25" lengthAdjust="spacingAndGlyphs">=</text>
<text x="147.84" y="13.60" font-size="9.7" textLength="12.77" lengthAdjust="spacingAndGlyphs">0.5</text>
<text x="163.20" y="13.60" font-size="9.7" textLength="12.93" lengthAdjust="spacingAndGlyphs">km</text>
<text x="177.01" y="13.60" font-size="9.7" textLength="4.94" lengthAdjust="spacingAndGlyphs">a</text>
<text x="181.77" y="10.90" font-size="6.8" textLength="4.85" lengthAdjust="spacingAndGlyphs">−</text>
<text x="186.92" y="10.90" font-size="7.4" textLength="2.82" lengthAdjust="spacingAndGlyphs">1</text>
<text x="4.6" y="12.4" font-size="9.4">(a)</text>
<text x="137.50" y="261" font-size="10" text-anchor="middle" textLength="17.9" lengthAdjust="spacingAndGlyphs">Year</text>
<text transform="translate(24.7,244.0) rotate(-90)" font-size="10.2" textLength="223.5" lengthAdjust="spacingAndGlyphs">Additional VAF loss over no calving front retreat (km</text>
<text transform="translate(21.10,20.00) rotate(-90)" font-size="6.8">3</text>
<text transform="translate(24.7,16.10) rotate(-90)" font-size="10.2">)</text>
<text transform="translate(252.1,185.2) rotate(-90)" font-size="9.3" textLength="113.2" lengthAdjust="spacingAndGlyphs">Equivalent sea level rise (mm)</text>
<rect x="279.5" y="19.5" width="190.00" height="219.00" fill="none" stroke="#a6a6a6" stroke-width="1"/>
<line x1="302.5" y1="238.5" x2="302.5" y2="236.5" stroke="#a6a6a6" stroke-width="1"/>
<line x1="302.5" y1="19.5" x2="302.5" y2="21.5" stroke="#a6a6a6" stroke-width="1"/>
<text x="302.92" y="249.4" font-size="9.8" text-anchor="middle" textLength="17.64" lengthAdjust="spacingAndGlyphs">2050</text>
<line x1="336.5" y1="238.5" x2="336.5" y2="236.5" stroke="#a6a6a6" stroke-width="1"/>
<line x1="336.5" y1="19.5" x2="336.5" y2="21.5" stroke="#a6a6a6" stroke-width="1"/>
<text x="336.24" y="249.4" font-size="9.8" text-anchor="middle" textLength="17.64" lengthAdjust="spacingAndGlyphs">2100</text>
<line x1="369.5" y1="238.5" x2="369.5" y2="236.5" stroke="#a6a6a6" stroke-width="1"/>
<line x1="369.5" y1="19.5" x2="369.5" y2="21.5" stroke="#a6a6a6" stroke-width="1"/>
<text x="369.55" y="249.4" font-size="9.8" text-anchor="middle" textLength="17.64" lengthAdjust="spacingAndGlyphs">2150</text>
<line x1="402.5" y1="238.5" x2="402.5" y2="236.5" stroke="#a6a6a6" stroke-width="1"/>
<line x1="402.5" y1="19.5" x2="402.5" y2="21.5" stroke="#a6a6a6" stroke-width="1"/>
<text x="402.87" y="249.4" font-size="9.8" text-anchor="middle" textLength="17.64" lengthAdjust="spacingAndGlyphs">2200</text>
<line x1="436.5" y1="238.5" x2="436.5" y2="236.5" stroke="#a6a6a6" stroke-width="1"/>
<line x1="436.5" y1="19.5" x2="436.5" y2="21.5" stroke="#a6a6a6" stroke-width="1"/>
<text x="436.18" y="249.4" font-size="9.8" text-anchor="middle" textLength="17.64" lengthAdjust="spacingAndGlyphs">2250</text>
<text x="469.50" y="249.4" font-size="9.8" text-anchor="middle" textLength="17.64" lengthAdjust="spacingAndGlyphs">2300</text>
<text x="277.40" y="241.10" font-size="9.8" text-anchor="end" textLength="4.41" lengthAdjust="spacingAndGlyphs">0</text>
<line x1="279.5" y1="214.5" x2="281.5" y2="214.5" stroke="#a6a6a6" stroke-width="1"/>
<text x="277.40" y="216.78" font-size="9.8" text-anchor="end" textLength="4.41" lengthAdjust="spacingAndGlyphs">1</text>
<line x1="279.5" y1="189.5" x2="281.5" y2="189.5" stroke="#a6a6a6" stroke-width="1"/>
<text x="277.40" y="192.46" font-size="9.8" text-anchor="end" textLength="4.41" lengthAdjust="spacingAndGlyphs">2</text>
<line x1="279.5" y1="165.5" x2="281.5" y2="165.5" stroke="#a6a6a6" stroke-width="1"/>
<text x="277.40" y="168.13" font-size="9.8" text-anchor="end" textLength="4.41" lengthAdjust="spacingAndGlyphs">3</text>
<line x1="279.5" y1="141.5" x2="281.5" y2="141.5" stroke="#a6a6a6" stroke-width="1"/>
<text x="277.40" y="143.81" font-size="9.8" text-anchor="end" textLength="4.41" lengthAdjust="spacingAndGlyphs">4</text>
<line x1="279.5" y1="116.5" x2="281.5" y2="116.5" stroke="#a6a6a6" stroke-width="1"/>
<text x="277.40" y="119.49" font-size="9.8" text-anchor="end" textLength="4.41" lengthAdjust="spacingAndGlyphs">5</text>
<line x1="279.5" y1="92.5" x2="281.5" y2="92.5" stroke="#a6a6a6" stroke-width="1"/>
<text x="277.40" y="95.17" font-size="9.8" text-anchor="end" textLength="4.41" lengthAdjust="spacingAndGlyphs">6</text>
<line x1="279.5" y1="68.5" x2="281.5" y2="68.5" stroke="#a6a6a6" stroke-width="1"/>
<text x="277.40" y="70.84" font-size="9.8" text-anchor="end" textLength="4.41" lengthAdjust="spacingAndGlyphs">7</text>
<line x1="279.5" y1="43.5" x2="281.5" y2="43.5" stroke="#a6a6a6" stroke-width="1"/>
<text x="277.40" y="46.52" font-size="9.8" text-anchor="end" textLength="4.41" lengthAdjust="spacingAndGlyphs">8</text>
<text x="277.40" y="22.20" font-size="9.8" text-anchor="end" textLength="4.41" lengthAdjust="spacingAndGlyphs">9</text>
<text x="472.10" y="241.30" font-size="9.8" textLength="4.41" lengthAdjust="spacingAndGlyphs">0</text>
<line x1="469.5" y1="194.5" x2="467.5" y2="194.5" stroke="#a6a6a6" stroke-width="1"/>
<text x="472.10" y="197.30" font-size="9.8" textLength="8.82" lengthAdjust="spacingAndGlyphs">50</text>
<line x1="469.5" y1="150.5" x2="467.5" y2="150.5" stroke="#a6a6a6" stroke-width="1"/>
<text x="472.10" y="153.30" font-size="9.8" textLength="13.23" lengthAdjust="spacingAndGlyphs">100</text>
<line x1="469.5" y1="106.5" x2="467.5" y2="106.5" stroke="#a6a6a6" stroke-width="1"/>
<text x="472.10" y="109.30" font-size="9.8" textLength="13.23" lengthAdjust="spacingAndGlyphs">150</text>
<line x1="469.5" y1="62.5" x2="467.5" y2="62.5" stroke="#a6a6a6" stroke-width="1"/>
<text x="472.10" y="65.30" font-size="9.8" textLength="13.23" lengthAdjust="spacingAndGlyphs">200</text>
<path d="M279.60,238.30 L280.27,238.30 L280.93,238.30 L281.60,238.30 L282.26,238.30 L282.93,238.30 L283.60,238.30 L284.26,238.29 L284.93,238.27 L285.59,238.25 L286.26,238.22 L286.93,238.19 L287.59,238.16 L288.26,238.12 L288.92,238.07 L289.59,238.02 L290.26,237.97 L290.92,237.91 L291.59,237.85 L292.25,237.78 L292.92,237.70 L293.59,237.62 L294.25,237.54 L294.92,237.45 L295.58,237.36 L296.25,237.26 L296.92,237.15 L297.58,237.04 L298.25,236.92 L298.91,236.80 L299.58,236.67 L300.24,236.54 L300.91,236.40 L301.58,236.26 L302.24,236.11 L302.91,235.95 L303.57,235.79 L304.24,235.62 L304.91,235.44 L305.57,235.26 L306.24,235.07 L306.90,234.88 L307.57,234.68 L308.24,234.47 L308.90,234.26 L309.57,234.04 L310.23,233.81 L310.90,233.58 L311.57,233.34 L312.23,233.09 L312.90,232.84 L313.56,232.58 L314.23,232.31 L314.90,232.04 L315.56,231.75 L316.23,231.46 L316.89,231.17 L317.56,230.86 L318.23,230.55 L318.89,230.23 L319.56,229.91 L320.22,229.57 L320.89,229.23 L321.56,228.88 L322.22,228.53 L322.89,228.16 L323.55,227.79 L324.22,227.41 L324.89,227.02 L325.55,226.62 L326.22,226.22 L326.88,225.80 L327.55,225.38 L328.22,224.95 L328.88,224.51 L329.55,224.07 L330.21,223.61 L330.88,223.15 L331.55,222.68 L332.21,222.20 L332.88,221.71 L333.54,221.21 L334.21,220.70 L334.88,220.18 L335.54,219.66 L336.21,219.12 L336.87,218.58 L337.54,218.03 L338.20,217.47 L338.87,216.90 L339.54,216.32 L340.20,215.73 L340.87,215.14 L341.53,214.54 L342.20,213.92 L342.87,213.30 L343.53,212.68 L344.20,212.04 L344.86,211.40 L345.53,210.75 L346.20,210.09 L346.86,209.42 L347.53,208.74 L348.19,208.06 L348.86,207.37 L349.53,206.67 L350.19,205.97 L350.86,205.26 L351.52,204.54 L352.19,203.81 L352.86,203.08 L353.52,202.34 L354.19,201.59 L354.85,200.84 L355.52,200.08 L356.19,199.31 L356.85,198.54 L357.52,197.76 L358.18,196.97 L358.85,196.18 L359.52,195.38 L360.18,194.58 L360.85,193.77 L361.51,192.96 L362.18,192.14 L362.85,191.32 L363.51,190.49 L364.18,189.66 L364.84,188.82 L365.51,187.98 L366.18,187.14 L366.84,186.29 L367.51,185.44 L368.17,184.58 L368.84,183.73 L369.51,182.86 L370.17,182.00 L370.84,181.13 L371.50,180.26 L372.17,179.39 L372.84,178.51 L373.50,177.64 L374.17,176.76 L374.83,175.87 L375.50,174.99 L376.16,174.11 L376.83,173.22 L377.50,172.33 L378.16,171.45 L378.83,170.56 L379.49,169.67 L380.16,168.78 L380.83,167.89 L381.49,167.00 L382.16,166.11 L382.82,165.21 L383.49,164.32 L384.16,163.43 L384.82,162.54 L385.49,161.65 L386.15,160.76 L386.82,159.87 L387.49,158.98 L388.15,158.08 L388.82,157.19 L389.48,156.30 L390.15,155.40 L390.82,154.51 L391.48,153.61 L392.15,152.71 L392.81,151.81 L393.48,150.91 L394.15,150.01 L394.81,149.11 L395.48,148.21 L396.14,147.30 L396.81,146.40 L397.48,145.49 L398.14,144.58 L398.81,143.67 L399.47,142.76 L400.14,141.84 L400.81,140.93 L401.47,140.01 L402.14,139.09 L402.80,138.16 L403.47,137.24 L404.14,136.31 L404.80,135.38 L405.47,134.45 L406.13,133.51 L406.80,132.58 L407.47,131.64 L408.13,130.69 L408.80,129.75 L409.46,128.80 L410.13,127.85 L410.80,126.89 L411.46,125.94 L412.13,124.97 L412.79,124.01 L413.46,123.04 L414.12,122.07 L414.79,121.10 L415.46,120.12 L416.12,119.14 L416.79,118.15 L417.45,117.16 L418.12,116.17 L418.79,115.18 L419.45,114.18 L420.12,113.17 L420.78,112.16 L421.45,111.15 L422.12,110.14 L422.78,109.12 L423.45,108.10 L424.11,107.07 L424.78,106.04 L425.45,105.01 L426.11,103.97 L426.78,102.93 L427.44,101.89 L428.11,100.84 L428.78,99.79 L429.44,98.73 L430.11,97.67 L430.77,96.61 L431.44,95.54 L432.11,94.47 L432.77,93.39 L433.44,92.31 L434.10,91.23 L434.77,90.14 L435.44,89.05 L436.10,87.96 L436.77,86.86 L437.43,85.75 L438.10,84.65 L438.77,83.54 L439.43,82.42 L440.10,81.30 L440.76,80.18 L441.43,79.05 L442.10,77.92 L442.76,76.78 L443.43,75.64 L444.09,74.50 L444.76,73.35 L445.43,72.20 L446.09,71.05 L446.76,69.89 L447.42,68.72 L448.09,67.55 L448.76,66.38 L449.42,65.20 L450.09,64.02 L450.75,62.84 L451.42,61.65 L452.08,60.45 L452.75,59.26 L453.42,58.05 L454.08,56.85 L454.75,55.64 L455.41,54.42 L456.08,53.20 L456.75,51.98 L457.41,50.75 L458.08,49.52 L458.74,48.28 L459.41,47.04 L460.08,45.80 L460.74,44.55 L461.41,43.29 L462.07,42.04 L462.74,40.77 L463.41,39.51 L464.07,38.23 L464.74,36.96 L465.40,35.68 L466.07,34.39 L466.74,33.10 L467.40,31.81 L468.07,30.51 L468.73,29.21 L469.40,27.90" fill="none" stroke="#2989c8" stroke-width="1.15" stroke-linejoin="round"/>
<path d="M279.60,238.30 L280.27,238.30 L280.93,238.30 L281.60,238.30 L282.26,238.30 L282.93,238.30 L283.60,238.30 L284.26,238.30 L284.93,238.30 L285.59,238.30 L286.26,238.30 L286.93,238.30 L287.59,238.30 L288.26,238.30 L288.92,238.30 L289.59,238.30 L290.26,238.30 L290.92,238.30 L291.59,238.30 L292.25,238.30 L292.92,238.30 L293.59,238.30 L294.25,238.30 L294.92,238.30 L295.58,238.30 L296.25,238.30 L296.92,238.30 L297.58,238.30 L298.25,238.30 L298.91,238.30 L299.58,238.30 L300.24,238.30 L300.91,238.30 L301.58,238.30 L302.24,238.30 L302.91,238.30 L303.57,238.30 L304.24,238.30 L304.91,238.30 L305.57,238.30 L306.24,238.30 L306.90,238.29 L307.57,238.25 L308.24,238.21 L308.90,238.16 L309.57,238.12 L310.23,238.07 L310.90,238.02 L311.57,237.97 L312.23,237.91 L312.90,237.86 L313.56,237.80 L314.23,237.75 L314.90,237.69 L315.56,237.63 L316.23,237.56 L316.89,237.50 L317.56,237.44 L318.23,237.37 L318.89,237.30 L319.56,237.23 L320.22,237.16 L320.89,237.09 L321.56,237.02 L322.22,236.94 L322.89,236.87 L323.55,236.79 L324.22,236.71 L324.89,236.63 L325.55,236.55 L326.22,236.47 L326.88,236.39 L327.55,236.30 L328.22,236.22 L328.88,236.13 L329.55,236.04 L330.21,235.96 L330.88,235.87 L331.55,235.78 L332.21,235.68 L332.88,235.59 L333.54,235.50 L334.21,235.40 L334.88,235.31 L335.54,235.21 L336.21,235.12 L336.87,235.02 L337.54,234.92 L338.20,234.82 L338.87,234.72 L339.54,234.62 L340.20,234.52 L340.87,234.42 L341.53,234.31 L342.20,234.21 L342.87,234.10 L343.53,234.00 L344.20,233.89 L344.86,233.79 L345.53,233.68 L346.20,233.57 L346.86,233.46 L347.53,233.36 L348.19,233.25 L348.86,233.14 L349.53,233.03 L350.19,232.92 L350.86,232.81 L351.52,232.69 L352.19,232.58 L352.86,232.47 L353.52,232.36 L354.19,232.24 L354.85,232.13 L355.52,232.02 L356.19,231.90 L356.85,231.79 L357.52,231.67 L358.18,231.56 L358.85,231.45 L359.52,231.33 L360.18,231.22 L360.85,231.10 L361.51,230.98 L362.18,230.87 L362.85,230.75 L363.51,230.64 L364.18,230.52 L364.84,230.41 L365.51,230.29 L366.18,230.17 L366.84,230.06 L367.51,229.94 L368.17,229.82 L368.84,229.71 L369.51,229.59 L370.17,229.47 L370.84,229.35 L371.50,229.24 L372.17,229.12 L372.84,229.00 L373.50,228.88 L374.17,228.76 L374.83,228.65 L375.50,228.53 L376.16,228.41 L376.83,228.29 L377.50,228.17 L378.16,228.05 L378.83,227.93 L379.49,227.81 L380.16,227.70 L380.83,227.58 L381.49,227.46 L382.16,227.34 L382.82,227.22 L383.49,227.10 L384.16,226.98 L384.82,226.86 L385.49,226.74 L386.15,226.62 L386.82,226.50 L387.49,226.37 L388.15,226.25 L388.82,226.13 L389.48,226.01 L390.15,225.89 L390.82,225.77 L391.48,225.65 L392.15,225.53 L392.81,225.41 L393.48,225.28 L394.15,225.16 L394.81,225.04 L395.48,224.92 L396.14,224.80 L396.81,224.67 L397.48,224.55 L398.14,224.43 L398.81,224.31 L399.47,224.18 L400.14,224.06 L400.81,223.94 L401.47,223.81 L402.14,223.69 L402.80,223.57 L403.47,223.44 L404.14,223.32 L404.80,223.20 L405.47,223.07 L406.13,222.95 L406.80,222.82 L407.47,222.70 L408.13,222.58 L408.80,222.45 L409.46,222.33 L410.13,222.20 L410.80,222.08 L411.46,221.95 L412.13,221.83 L412.79,221.70 L413.46,221.58 L414.12,221.45 L414.79,221.33 L415.46,221.20 L416.12,221.08 L416.79,220.95 L417.45,220.83 L418.12,220.70 L418.79,220.58 L419.45,220.45 L420.12,220.32 L420.78,220.20 L421.45,220.07 L422.12,219.95 L422.78,219.82 L423.45,219.69 L424.11,219.57 L424.78,219.44 L425.45,219.31 L426.11,219.19 L426.78,219.06 L427.44,218.93 L428.11,218.81 L428.78,218.68 L429.44,218.55 L430.11,218.43 L430.77,218.30 L431.44,218.17 L432.11,218.04 L432.77,217.92 L433.44,217.79 L434.10,217.66 L434.77,217.53 L435.44,217.41 L436.10,217.28 L436.77,217.15 L437.43,217.02 L438.10,216.89 L438.77,216.76 L439.43,216.64 L440.10,216.51 L440.76,216.38 L441.43,216.25 L442.10,216.12 L442.76,215.99 L443.43,215.87 L444.09,215.74 L444.76,215.61 L445.43,215.48 L446.09,215.35 L446.76,215.22 L447.42,215.09 L448.09,214.96 L448.76,214.83 L449.42,214.70 L450.09,214.58 L450.75,214.45 L451.42,214.32 L452.08,214.19 L452.75,214.06 L453.42,213.93 L454.08,213.80 L454.75,213.67 L455.41,213.54 L456.08,213.41 L456.75,213.28 L457.41,213.15 L458.08,213.02 L458.74,212.89 L459.41,212.76 L460.08,212.63 L460.74,212.50 L461.41,212.37 L462.07,212.24 L462.74,212.11 L463.41,211.98 L464.07,211.85 L464.74,211.72 L465.40,211.59 L466.07,211.46 L466.74,211.32 L467.40,211.19 L468.07,211.06 L468.73,210.93 L469.40,210.80" fill="none" stroke="#dd6430" stroke-width="1.15" stroke-linejoin="round"/>
<path d="M279.60,238.30 L280.27,238.29 L280.93,238.28 L281.60,238.27 L282.26,238.26 L282.93,238.26 L283.60,238.25 L284.26,238.25 L284.93,238.25 L285.59,238.25 L286.26,238.25 L286.93,238.26 L287.59,238.26 L288.26,238.26 L288.92,238.27 L289.59,238.27 L290.26,238.28 L290.92,238.29 L291.59,238.29 L292.25,238.30 L292.92,238.30 L293.59,238.30 L294.25,238.30 L294.92,238.30 L295.58,238.30 L296.25,238.30 L296.92,238.30 L297.58,238.30 L298.25,238.30 L298.91,238.30 L299.58,238.30 L300.24,238.30 L300.91,238.29 L301.58,238.27 L302.24,238.26 L302.91,238.24 L303.57,238.22 L304.24,238.20 L304.91,238.18 L305.57,238.15 L306.24,238.12 L306.90,238.08 L307.57,238.04 L308.24,238.00 L308.90,237.96 L309.57,237.91 L310.23,237.85 L310.90,237.80 L311.57,237.73 L312.23,237.67 L312.90,237.60 L313.56,237.52 L314.23,237.44 L314.90,237.35 L315.56,237.26 L316.23,237.17 L316.89,237.06 L317.56,236.96 L318.23,236.84 L318.89,236.73 L319.56,236.60 L320.22,236.47 L320.89,236.33 L321.56,236.19 L322.22,236.04 L322.89,235.88 L323.55,235.72 L324.22,235.54 L324.89,235.37 L325.55,235.18 L326.22,234.99 L326.88,234.79 L327.55,234.58 L328.22,234.36 L328.88,234.14 L329.55,233.91 L330.21,233.68 L330.88,233.44 L331.55,233.19 L332.21,232.93 L332.88,232.67 L333.54,232.40 L334.21,232.13 L334.88,231.85 L335.54,231.56 L336.21,231.26 L336.87,230.96 L337.54,230.66 L338.20,230.35 L338.87,230.03 L339.54,229.71 L340.20,229.38 L340.87,229.04 L341.53,228.70 L342.20,228.35 L342.87,228.00 L343.53,227.64 L344.20,227.28 L344.86,226.91 L345.53,226.54 L346.20,226.16 L346.86,225.78 L347.53,225.39 L348.19,225.00 L348.86,224.60 L349.53,224.20 L350.19,223.79 L350.86,223.38 L351.52,222.96 L352.19,222.54 L352.86,222.12 L353.52,221.69 L354.19,221.25 L354.85,220.82 L355.52,220.37 L356.19,219.93 L356.85,219.48 L357.52,219.02 L358.18,218.57 L358.85,218.10 L359.52,217.64 L360.18,217.17 L360.85,216.70 L361.51,216.22 L362.18,215.74 L362.85,215.26 L363.51,214.77 L364.18,214.28 L364.84,213.79 L365.51,213.30 L366.18,212.80 L366.84,212.30 L367.51,211.79 L368.17,211.29 L368.84,210.78 L369.51,210.26 L370.17,209.75 L370.84,209.23 L371.50,208.71 L372.17,208.18 L372.84,207.65 L373.50,207.13 L374.17,206.59 L374.83,206.06 L375.50,205.52 L376.16,204.98 L376.83,204.44 L377.50,203.90 L378.16,203.35 L378.83,202.80 L379.49,202.25 L380.16,201.70 L380.83,201.15 L381.49,200.59 L382.16,200.03 L382.82,199.47 L383.49,198.91 L384.16,198.35 L384.82,197.78 L385.49,197.21 L386.15,196.65 L386.82,196.07 L387.49,195.50 L388.15,194.93 L388.82,194.35 L389.48,193.78 L390.15,193.20 L390.82,192.62 L391.48,192.04 L392.15,191.45 L392.81,190.86 L393.48,190.28 L394.15,189.69 L394.81,189.09 L395.48,188.50 L396.14,187.90 L396.81,187.30 L397.48,186.70 L398.14,186.09 L398.81,185.48 L399.47,184.87 L400.14,184.26 L400.81,183.64 L401.47,183.02 L402.14,182.39 L402.80,181.77 L403.47,181.14 L404.14,180.50 L404.80,179.86 L405.47,179.22 L406.13,178.58 L406.80,177.93 L407.47,177.27 L408.13,176.62 L408.80,175.96 L409.46,175.29 L410.13,174.62 L410.80,173.95 L411.46,173.27 L412.13,172.59 L412.79,171.91 L413.46,171.22 L414.12,170.53 L414.79,169.84 L415.46,169.14 L416.12,168.44 L416.79,167.74 L417.45,167.04 L418.12,166.33 L418.79,165.63 L419.45,164.92 L420.12,164.21 L420.78,163.50 L421.45,162.79 L422.12,162.08 L422.78,161.37 L423.45,160.66 L424.11,159.95 L424.78,159.23 L425.45,158.52 L426.11,157.81 L426.78,157.10 L427.44,156.39 L428.11,155.68 L428.78,154.97 L429.44,154.27 L430.11,153.56 L430.77,152.86 L431.44,152.16 L432.11,151.46 L432.77,150.75 L433.44,150.05 L434.10,149.36 L434.77,148.66 L435.44,147.96 L436.10,147.26 L436.77,146.56 L437.43,145.87 L438.10,145.17 L438.77,144.47 L439.43,143.78 L440.10,143.08 L440.76,142.38 L441.43,141.69 L442.10,140.99 L442.76,140.29 L443.43,139.60 L444.09,138.90 L444.76,138.20 L445.43,137.50 L446.09,136.80 L446.76,136.10 L447.42,135.40 L448.09,134.69 L448.76,133.99 L449.42,133.28 L450.09,132.58 L450.75,131.87 L451.42,131.16 L452.08,130.45 L452.75,129.74 L453.42,129.03 L454.08,128.31 L454.75,127.59 L455.41,126.87 L456.08,126.15 L456.75,125.43 L457.41,124.71 L458.08,123.98 L458.74,123.25 L459.41,122.52 L460.08,121.78 L460.74,121.05 L461.41,120.31 L462.07,119.56 L462.74,118.82 L463.41,118.07 L464.07,117.32 L464.74,116.57 L465.40,115.81 L466.07,115.05 L466.74,114.29 L467.40,113.52 L468.07,112.75 L468.73,111.98 L469.40,111.20" fill="none" stroke="#eeb732" stroke-width="1.15" stroke-linejoin="round"/>
<path d="M279.60,238.30 L280.27,238.30 L280.93,238.30 L281.60,238.30 L282.26,238.30 L282.93,238.30 L283.60,238.30 L284.26,238.30 L284.93,238.30 L285.59,238.30 L286.26,238.30 L286.93,238.30 L287.59,238.30 L288.26,238.30 L288.92,238.30 L289.59,238.30 L290.26,238.30 L290.92,238.30 L291.59,238.30 L292.25,238.30 L292.92,238.30 L293.59,238.30 L294.25,238.26 L294.92,238.22 L295.58,238.18 L296.25,238.13 L296.92,238.08 L297.58,238.03 L298.25,237.97 L298.91,237.91 L299.58,237.85 L300.24,237.79 L300.91,237.72 L301.58,237.65 L302.24,237.58 L302.91,237.50 L303.57,237.43 L304.24,237.35 L304.91,237.26 L305.57,237.18 L306.24,237.09 L306.90,237.00 L307.57,236.91 L308.24,236.82 L308.90,236.72 L309.57,236.62 L310.23,236.52 L310.90,236.42 L311.57,236.31 L312.23,236.20 L312.90,236.10 L313.56,235.98 L314.23,235.87 L314.90,235.76 L315.56,235.64 L316.23,235.52 L316.89,235.40 L317.56,235.28 L318.23,235.15 L318.89,235.03 L319.56,234.90 L320.22,234.77 L320.89,234.64 L321.56,234.51 L322.22,234.37 L322.89,234.24 L323.55,234.10 L324.22,233.96 L324.89,233.82 L325.55,233.68 L326.22,233.54 L326.88,233.40 L327.55,233.25 L328.22,233.11 L328.88,232.96 L329.55,232.81 L330.21,232.67 L330.88,232.52 L331.55,232.37 L332.21,232.22 L332.88,232.06 L333.54,231.91 L334.21,231.76 L334.88,231.60 L335.54,231.45 L336.21,231.29 L336.87,231.14 L337.54,230.98 L338.20,230.82 L338.87,230.66 L339.54,230.50 L340.20,230.35 L340.87,230.19 L341.53,230.03 L342.20,229.87 L342.87,229.71 L343.53,229.55 L344.20,229.39 L344.86,229.23 L345.53,229.06 L346.20,228.90 L346.86,228.74 L347.53,228.58 L348.19,228.42 L348.86,228.26 L349.53,228.10 L350.19,227.94 L350.86,227.78 L351.52,227.62 L352.19,227.46 L352.86,227.30 L353.52,227.14 L354.19,226.98 L354.85,226.82 L355.52,226.67 L356.19,226.51 L356.85,226.35 L357.52,226.20 L358.18,226.04 L358.85,225.89 L359.52,225.73 L360.18,225.58 L360.85,225.43 L361.51,225.28 L362.18,225.12 L362.85,224.97 L363.51,224.82 L364.18,224.68 L364.84,224.53 L365.51,224.38 L366.18,224.23 L366.84,224.09 L367.51,223.94 L368.17,223.80 L368.84,223.65 L369.51,223.51 L370.17,223.36 L370.84,223.22 L371.50,223.08 L372.17,222.93 L372.84,222.79 L373.50,222.65 L374.17,222.51 L374.83,222.37 L375.50,222.23 L376.16,222.08 L376.83,221.94 L377.50,221.80 L378.16,221.66 L378.83,221.52 L379.49,221.38 L380.16,221.24 L380.83,221.10 L381.49,220.96 L382.16,220.82 L382.82,220.68 L383.49,220.55 L384.16,220.41 L384.82,220.27 L385.49,220.13 L386.15,219.99 L386.82,219.85 L387.49,219.71 L388.15,219.57 L388.82,219.43 L389.48,219.28 L390.15,219.14 L390.82,219.00 L391.48,218.86 L392.15,218.72 L392.81,218.58 L393.48,218.43 L394.15,218.29 L394.81,218.15 L395.48,218.00 L396.14,217.86 L396.81,217.72 L397.48,217.57 L398.14,217.43 L398.81,217.28 L399.47,217.13 L400.14,216.99 L400.81,216.84 L401.47,216.69 L402.14,216.54 L402.80,216.39 L403.47,216.24 L404.14,216.09 L404.80,215.94 L405.47,215.78 L406.13,215.63 L406.80,215.48 L407.47,215.32 L408.13,215.16 L408.80,215.01 L409.46,214.85 L410.13,214.69 L410.80,214.53 L411.46,214.37 L412.13,214.21 L412.79,214.04 L413.46,213.88 L414.12,213.72 L414.79,213.55 L415.46,213.38 L416.12,213.21 L416.79,213.05 L417.45,212.87 L418.12,212.70 L418.79,212.53 L419.45,212.36 L420.12,212.18 L420.78,212.00 L421.45,211.82 L422.12,211.65 L422.78,211.46 L423.45,211.28 L424.11,211.10 L424.78,210.91 L425.45,210.73 L426.11,210.54 L426.78,210.35 L427.44,210.16 L428.11,209.96 L428.78,209.77 L429.44,209.57 L430.11,209.38 L430.77,209.18 L431.44,208.98 L432.11,208.77 L432.77,208.57 L433.44,208.36 L434.10,208.16 L434.77,207.95 L435.44,207.73 L436.10,207.52 L436.77,207.31 L437.43,207.09 L438.10,206.87 L438.77,206.65 L439.43,206.43 L440.10,206.20 L440.76,205.97 L441.43,205.75 L442.10,205.52 L442.76,205.28 L443.43,205.05 L444.09,204.81 L444.76,204.57 L445.43,204.33 L446.09,204.09 L446.76,203.84 L447.42,203.59 L448.09,203.34 L448.76,203.09 L449.42,202.83 L450.09,202.58 L450.75,202.32 L451.42,202.06 L452.08,201.79 L452.75,201.52 L453.42,201.26 L454.08,200.98 L454.75,200.71 L455.41,200.43 L456.08,200.15 L456.75,199.87 L457.41,199.59 L458.08,199.30 L458.74,199.01 L459.41,198.72 L460.08,198.42 L460.74,198.13 L461.41,197.83 L462.07,197.52 L462.74,197.22 L463.41,196.91 L464.07,196.60 L464.74,196.28 L465.40,195.97 L466.07,195.65 L466.74,195.32 L467.40,195.00 L468.07,194.67 L468.73,194.34 L469.40,194.00" fill="none" stroke="#843994" stroke-width="1.15" stroke-linejoin="round"/>
<path d="M279.60,238.30 L280.27,238.30 L280.93,238.30 L281.60,238.30 L282.26,238.30 L282.93,238.30 L283.60,238.30 L284.26,238.30 L284.93,238.30 L285.59,238.29 L286.26,238.26 L286.93,238.24 L287.59,238.20 L288.26,238.16 L288.92,238.12 L289.59,238.07 L290.26,238.02 L290.92,237.97 L291.59,237.90 L292.25,237.84 L292.92,237.76 L293.59,237.69 L294.25,237.60 L294.92,237.52 L295.58,237.42 L296.25,237.32 L296.92,237.22 L297.58,237.11 L298.25,236.99 L298.91,236.87 L299.58,236.75 L300.24,236.61 L300.91,236.48 L301.58,236.33 L302.24,236.18 L302.91,236.03 L303.57,235.86 L304.24,235.70 L304.91,235.52 L305.57,235.34 L306.24,235.16 L306.90,234.96 L307.57,234.76 L308.24,234.56 L308.90,234.35 L309.57,234.13 L310.23,233.90 L310.90,233.67 L311.57,233.44 L312.23,233.19 L312.90,232.94 L313.56,232.68 L314.23,232.42 L314.90,232.14 L315.56,231.87 L316.23,231.58 L316.89,231.29 L317.56,230.99 L318.23,230.68 L318.89,230.36 L319.56,230.04 L320.22,229.71 L320.89,229.38 L321.56,229.03 L322.22,228.68 L322.89,228.32 L323.55,227.96 L324.22,227.58 L324.89,227.20 L325.55,226.82 L326.22,226.42 L326.88,226.02 L327.55,225.61 L328.22,225.19 L328.88,224.77 L329.55,224.34 L330.21,223.90 L330.88,223.46 L331.55,223.01 L332.21,222.55 L332.88,222.08 L333.54,221.61 L334.21,221.13 L334.88,220.64 L335.54,220.15 L336.21,219.65 L336.87,219.14 L337.54,218.63 L338.20,218.11 L338.87,217.58 L339.54,217.05 L340.20,216.51 L340.87,215.96 L341.53,215.40 L342.20,214.84 L342.87,214.28 L343.53,213.70 L344.20,213.12 L344.86,212.53 L345.53,211.94 L346.20,211.34 L346.86,210.73 L347.53,210.12 L348.19,209.50 L348.86,208.87 L349.53,208.24 L350.19,207.60 L350.86,206.95 L351.52,206.30 L352.19,205.64 L352.86,204.98 L353.52,204.31 L354.19,203.63 L354.85,202.95 L355.52,202.26 L356.19,201.56 L356.85,200.86 L357.52,200.15 L358.18,199.44 L358.85,198.72 L359.52,197.99 L360.18,197.26 L360.85,196.52 L361.51,195.78 L362.18,195.03 L362.85,194.28 L363.51,193.52 L364.18,192.76 L364.84,191.99 L365.51,191.22 L366.18,190.44 L366.84,189.66 L367.51,188.88 L368.17,188.09 L368.84,187.30 L369.51,186.50 L370.17,185.70 L370.84,184.89 L371.50,184.09 L372.17,183.27 L372.84,182.46 L373.50,181.64 L374.17,180.82 L374.83,180.00 L375.50,179.17 L376.16,178.35 L376.83,177.52 L377.50,176.68 L378.16,175.85 L378.83,175.01 L379.49,174.17 L380.16,173.33 L380.83,172.49 L381.49,171.64 L382.16,170.80 L382.82,169.95 L383.49,169.10 L384.16,168.25 L384.82,167.41 L385.49,166.55 L386.15,165.70 L386.82,164.85 L387.49,164.00 L388.15,163.15 L388.82,162.29 L389.48,161.43 L390.15,160.58 L390.82,159.72 L391.48,158.86 L392.15,158.00 L392.81,157.14 L393.48,156.27 L394.15,155.41 L394.81,154.54 L395.48,153.67 L396.14,152.80 L396.81,151.93 L397.48,151.06 L398.14,150.18 L398.81,149.30 L399.47,148.42 L400.14,147.54 L400.81,146.66 L401.47,145.77 L402.14,144.88 L402.80,143.99 L403.47,143.09 L404.14,142.20 L404.80,141.30 L405.47,140.39 L406.13,139.49 L406.80,138.58 L407.47,137.67 L408.13,136.75 L408.80,135.84 L409.46,134.92 L410.13,133.99 L410.80,133.06 L411.46,132.13 L412.13,131.20 L412.79,130.26 L413.46,129.32 L414.12,128.38 L414.79,127.43 L415.46,126.47 L416.12,125.52 L416.79,124.56 L417.45,123.59 L418.12,122.62 L418.79,121.65 L419.45,120.67 L420.12,119.69 L420.78,118.71 L421.45,117.72 L422.12,116.72 L422.78,115.72 L423.45,114.72 L424.11,113.72 L424.78,112.70 L425.45,111.69 L426.11,110.67 L426.78,109.65 L427.44,108.62 L428.11,107.59 L428.78,106.56 L429.44,105.52 L430.11,104.48 L430.77,103.44 L431.44,102.39 L432.11,101.34 L432.77,100.29 L433.44,99.23 L434.10,98.17 L434.77,97.10 L435.44,96.04 L436.10,94.97 L436.77,93.89 L437.43,92.82 L438.10,91.74 L438.77,90.65 L439.43,89.57 L440.10,88.48 L440.76,87.39 L441.43,86.29 L442.10,85.20 L442.76,84.10 L443.43,83.00 L444.09,81.89 L444.76,80.78 L445.43,79.67 L446.09,78.56 L446.76,77.45 L447.42,76.33 L448.09,75.21 L448.76,74.09 L449.42,72.97 L450.09,71.84 L450.75,70.72 L451.42,69.59 L452.08,68.45 L452.75,67.32 L453.42,66.19 L454.08,65.05 L454.75,63.91 L455.41,62.77 L456.08,61.63 L456.75,60.48 L457.41,59.34 L458.08,58.19 L458.74,57.04 L459.41,55.89 L460.08,54.74 L460.74,53.59 L461.41,52.43 L462.07,51.28 L462.74,50.12 L463.41,48.96 L464.07,47.80 L464.74,46.64 L465.40,45.48 L466.07,44.32 L466.74,43.16 L467.40,41.99 L468.07,40.83 L468.73,39.66 L469.40,38.50" fill="none" stroke="#8ab84d" stroke-width="1.15" stroke-linejoin="round"/>
<text x="279.13" y="17.00" font-size="10" textLength="6.13" lengthAdjust="spacingAndGlyphs">×</text>
<text x="285.57" y="17.00" font-size="10" textLength="8.64" lengthAdjust="spacingAndGlyphs">10</text>
<text x="294.51" y="12.70" font-size="5.8" textLength="2.37" lengthAdjust="spacingAndGlyphs">4</text>
<text x="325.08" y="13.60" font-size="9.7" textLength="49.91" lengthAdjust="spacingAndGlyphs">Retreat rate</text>
<text x="377.71" y="13.60" font-size="9.7" textLength="7.76" lengthAdjust="spacingAndGlyphs">=</text>
<text x="388.03" y="13.60" font-size="9.7" textLength="4.51" lengthAdjust="spacingAndGlyphs">1</text>
<text x="395.78" y="13.60" font-size="9.7" textLength="13.75" lengthAdjust="spacingAndGlyphs">km</text>
<text x="410.41" y="13.60" font-size="9.7" textLength="4.94" lengthAdjust="spacingAndGlyphs">a</text>
<text x="415.17" y="10.90" font-size="6.8" textLength="4.85" lengthAdjust="spacingAndGlyphs">−</text>
<text x="419.92" y="10.90" font-size="7.4" textLength="2.82" lengthAdjust="spacingAndGlyphs">1</text>
<text x="245.5" y="12.4" font-size="9.4">(b)</text>
<text x="374.55" y="261" font-size="10" text-anchor="middle" textLength="17.9" lengthAdjust="spacingAndGlyphs">Year</text>
<text transform="translate(267.9,244.6) rotate(-90)" font-size="10.2" textLength="223.8" lengthAdjust="spacingAndGlyphs">Additional VAF loss over no calving front retreat (km</text>
<text transform="translate(264.30,20.60) rotate(-90)" font-size="6.8">3</text>
<text transform="translate(267.9,16.70) rotate(-90)" font-size="10.2">)</text>
<text transform="translate(492.9,185.2) rotate(-90)" font-size="9.3" textLength="113.2" lengthAdjust="spacingAndGlyphs">Equivalent sea level rise (mm)</text>
<rect x="46.5" y="23.5" width="136" height="46" fill="#fff" stroke="#a6a6a6" stroke-width="1"/>
<line x1="48.2" y1="28.30" x2="62.0" y2="28.30" stroke="#2989c8" stroke-width="1.15"/>
<text x="63.2" y="30.50" font-size="8.3" textLength="81.3" lengthAdjust="spacingAndGlyphs">Retreat all calving fronts</text>
<line x1="48.2" y1="37.60" x2="62.0" y2="37.60" stroke="#dd6430" stroke-width="1.15"/>
<text x="63.2" y="39.80" font-size="8.3" textLength="96.0" lengthAdjust="spacingAndGlyphs">Retreat Crosson/Dotson only</text>
<line x1="48.2" y1="46.90" x2="62.0" y2="46.90" stroke="#eeb732" stroke-width="1.15"/>
<text x="63.2" y="49.10" font-size="8.3" textLength="79.8" lengthAdjust="spacingAndGlyphs">Retreat Pine Island only</text>
<line x1="48.2" y1="56.20" x2="62.0" y2="56.20" stroke="#843994" stroke-width="1.15"/>
<text x="63.2" y="58.40" font-size="8.3" textLength="72.4" lengthAdjust="spacingAndGlyphs">Retreat Thwaites only</text>
<line x1="48.2" y1="65.50" x2="62.0" y2="65.50" stroke="#8ab84d" stroke-width="1.15"/>
<text x="63.2" y="67.70" font-size="8.3" textLength="117.2" lengthAdjust="spacingAndGlyphs">Sum of regional retreat experiments</text>
</svg></body></html>
